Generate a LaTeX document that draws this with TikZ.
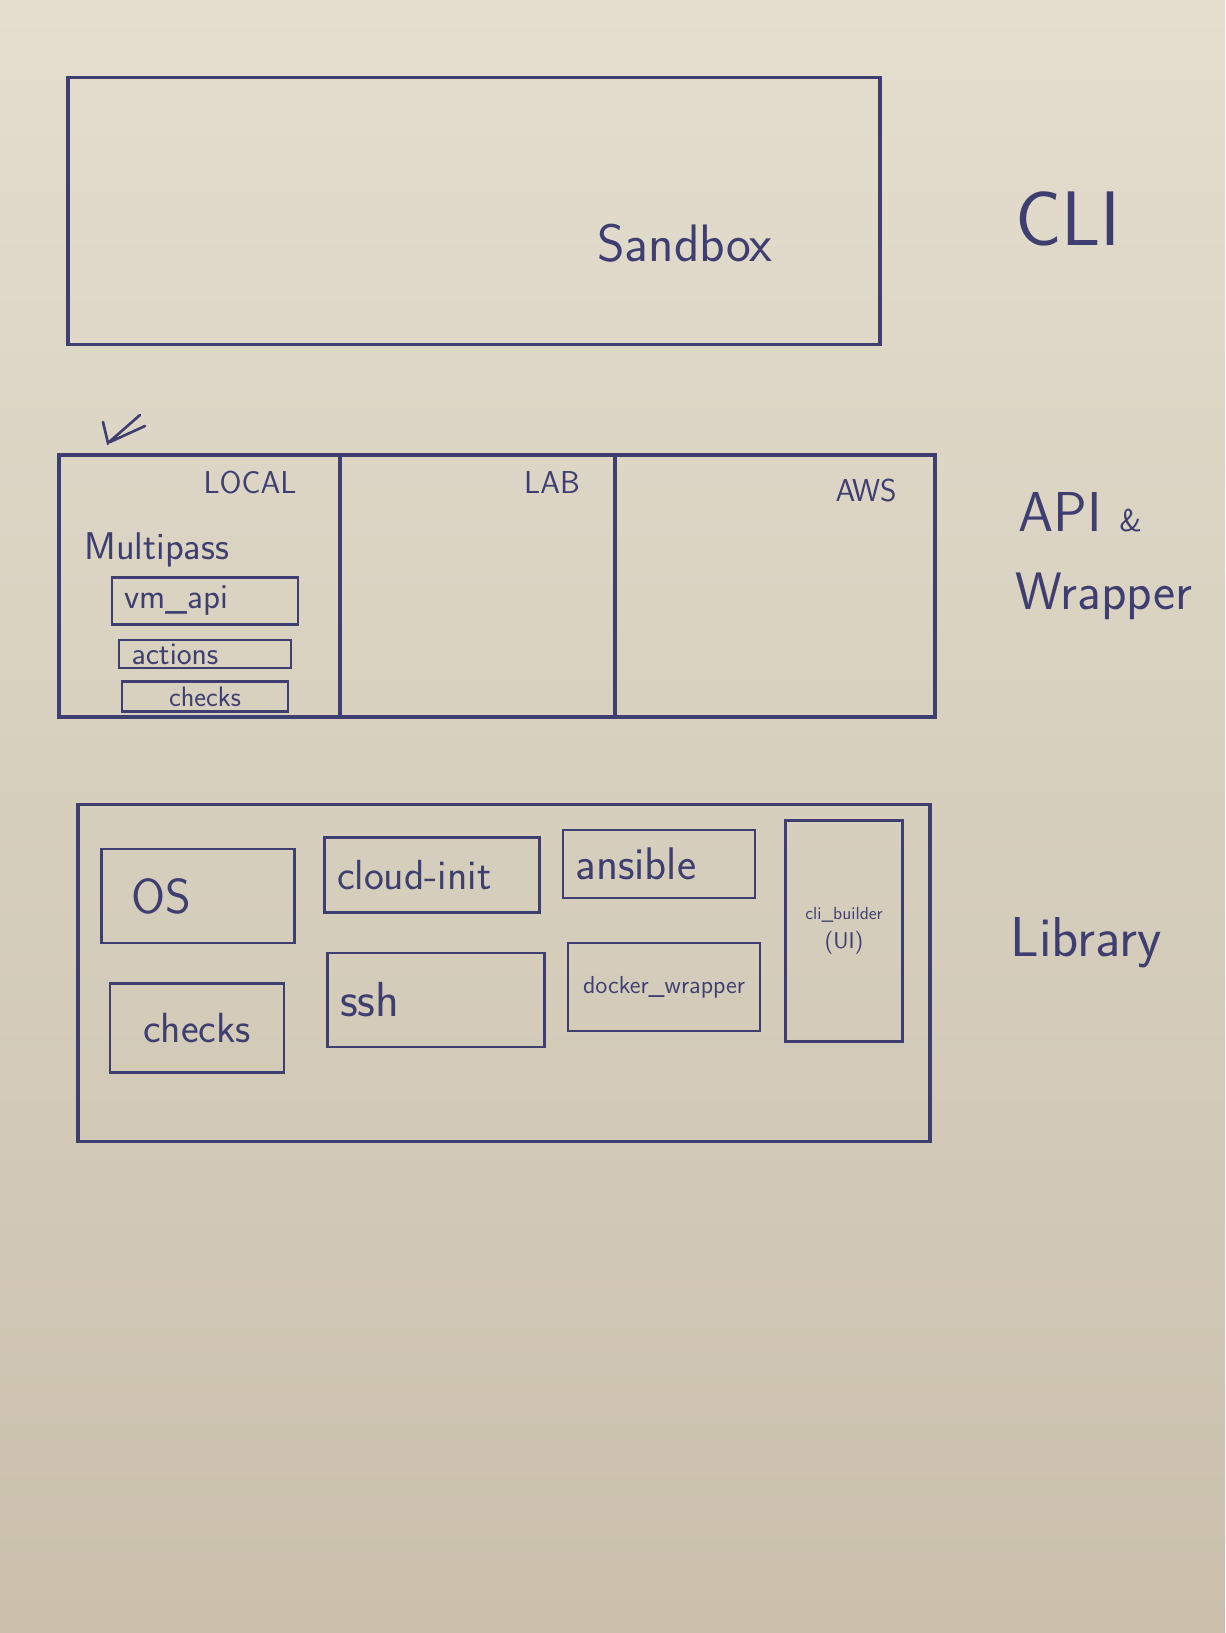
\documentclass[tikz,border=0pt]{standalone}
\usepackage{fontspec}
\usepackage{tikz}
\usetikzlibrary{positioning}
\definecolor{ink}{RGB}{62,62,112}
\definecolor{paper}{RGB}{228,222,207}
\definecolor{paperdark}{RGB}{202,192,172}
\newcommand{\pen}[1]{\sffamily\fontsize{#1}{#1}\selectfont}
\tikzstyle{layer} = [rectangle, draw=ink, line width=1.9pt]
\tikzstyle{module} = [rectangle, draw=ink, line width=1.5pt, text=ink, inner sep=1pt]
\tikzstyle{leftmodule} = [module, align=left, inner xsep=0.25cm]
\tikzstyle{hand} = [text=ink, inner sep=0pt]

\begin{document}
\begin{tikzpicture}[x=0.02cm, y=-0.02cm]
% Paper
\shade[top color=paper, bottom color=paperdark] (0,0) rectangle (1225,1633);
\useasboundingbox (0,0) rectangle (1225,1633);

% CLI layer
\node[layer, minimum width=16.24cm, minimum height=5.34cm] (sandbox) at (474,211) {};
\node[hand, font=\pen{30}] (sandboxlbl) at (685,243) {Sandbox};
\node[hand, font=\pen{44}] (cli) at (1068,219) {CLI};

% API & Wrapper layer
\node[layer, minimum width=17.52cm, minimum height=5.24cm] (api) at (497,586) {};
\coordinate (div1) at (340,0);
\coordinate (div2) at (615,0);
\draw[ink, line width=1.9pt] (div1 |- api.north) -- (div1 |- api.south);
\draw[ink, line width=1.9pt] (div2 |- api.north) -- (div2 |- api.south);
\node[hand, font=\pen{18}] (local) at (250,483) {LOCAL};
\node[hand, font=\pen{18}] (lab) at (552,483) {LAB};
\node[hand, font=\pen{18}] (aws) at (866,491) {AWS};
\node[hand, font=\pen{22}, anchor=west] (multipass) at (84,550) {Multipass};
\node[leftmodule, font=\pen{20}, text width=3.22cm, minimum height=0.94cm] (vmapi) at (205,601) {vm\_api};
\node[leftmodule, font=\pen{18}, text width=2.94cm, minimum height=0.56cm, below=0.26cm of vmapi] (actions) {actions};
\node[module, font=\pen{16}, minimum width=3.32cm, minimum height=0.6cm, below=0.22cm of actions] (mpchecks) {checks};
\node[hand, font=\pen{32}] (apilbl) at (1080,512) {API {\pen{18}\&}};
\node[hand, font=\pen{30}] (wrapper) at (1104,596) {Wrapper};
\draw[ink, line width=1.5pt, line cap=round] (103,422) -- (108,443) -- (140,415) (110,442) -- (145,426);

% Library layer
\node[layer, minimum width=17.04cm, minimum height=6.74cm] (library) at (504,973) {};
\node[leftmodule, font=\pen{28}, inner xsep=0.6cm, text width=2.66cm, minimum height=1.88cm] (os) at (198,896) {OS};
\node[leftmodule, font=\pen{24}, text width=3.8cm, minimum height=1.5cm] (cloudinit) at (432,875) {cloud-init};
\node[leftmodule, font=\pen{26}, text width=3.34cm, minimum height=1.36cm] (ansible) at (659,864) {ansible};
\node[module, font=\pen{24}, minimum width=3.48cm, minimum height=1.78cm] (libchecks) at (197,1028) {checks};
\node[leftmodule, font=\pen{28}, text width=3.84cm, minimum height=1.88cm] (ssh) at (436,1000) {ssh};
\node[module, font=\pen{14}, minimum width=3.84cm, minimum height=1.76cm] (docker) at (664,987) {docker\_wrapper};
\node[module, font=\pen{10}, minimum width=2.34cm, minimum height=4.42cm, align=center] (clibuilder) at (844,931) {cli\_builder\\[4pt]{\pen{13}(UI)}};
\node[hand, font=\pen{32}] (liblbl) at (1086,943) {Library};
\end{tikzpicture}
\end{document}
